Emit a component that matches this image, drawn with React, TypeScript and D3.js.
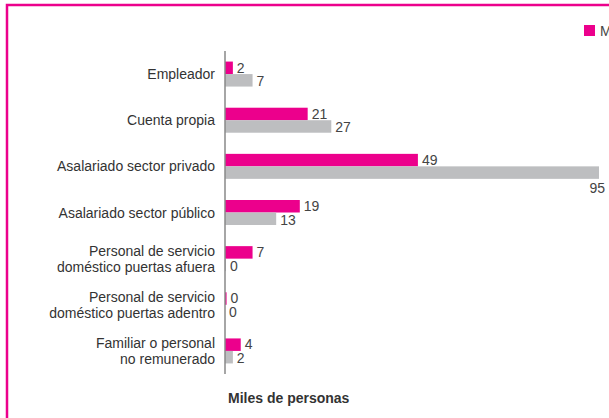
import React from "react";
import * as d3 from "d3";

const categories: string[][] = [
  ["Empleador"],
  ["Cuenta propia"],
  ["Asalariado sector privado"],
  ["Asalariado sector público"],
  ["Personal de servicio", "doméstico puertas afuera"],
  ["Personal de servicio", "doméstico puertas adentro"],
  ["Familiar o personal", "no remunerado"],
];
const mujeres = [2, 21, 49, 19, 7, 0.4, 4];
const mujeresLabels = ["2", "21", "49", "19", "7", "0", "4"];
const varones = [7, 27, 95, 13, 0.25, 0, 2];
const varonesLabels = ["7", "27", "95", "13", "0", "0", "2"];
const legendLabels = ["Mujeres", "Varones"];
const axisTitle = "Miles de personas";

const PINK = "#EC008C";
const GRAY = "#BDBEC0";

export default function App() {
  const W = 609, H = 418;
  const keys = categories.map((c) => c.join(" "));
  const y = d3.scaleBand<string>().domain(keys).range([51, 374]).padding(0);
  const x = d3.scaleLinear().domain([0, 95]).range([225, 599]);
  const barH = 12.5;
  const font = "'Liberation Sans', Arial, Helvetica, sans-serif";

  return (
    <svg width={W} height={H} style={{ position: "absolute", left: 0, top: 0, background: "#fff" }} fontFamily={font}>
      <rect x={7} y={5} width={W + 20} height={H + 20} fill="none" stroke={PINK} strokeWidth={2.5} />
      {/* legend */}
      <rect x={584} y={25} width={11} height={11} fill={PINK} />
      <text x={600} y={36} fontSize={14} fill="#444">{legendLabels[0]}</text>

      {categories.map((c, i) => {
        const cy = (y(keys[i]) as number) + y.bandwidth() / 2;
        const mw = x(mujeres[i]) - x(0);
        const vw = x(varones[i]) - x(0);
        const vEnd = x(varones[i]);
        const vFits = vEnd + 22 < W;
        return (
          <g key={i}>
            {c.map((line, j) => (
              <text
                key={j}
                x={215}
                y={cy + 5 + (j - (c.length - 1) / 2) * 16}
                textAnchor="end"
                fontSize={14}
                fill="#333"
              >
                {line}
              </text>
            ))}
            {mujeres[i] > 0 && (
              <rect x={x(0)} y={cy - barH} width={mw} height={barH} fill={PINK} />
            )}
            {varones[i] > 0 && (
              <rect x={x(0)} y={cy} width={vw} height={barH} fill={GRAY} />
            )}
            <text x={x(mujeres[i]) + 4} y={cy - 1.5} fontSize={14} fill="#444">
              {mujeresLabels[i]}
            </text>
            {vFits ? (
              <text x={vEnd + 4} y={cy + barH - 0.5} fontSize={14} fill="#444">
                {varonesLabels[i]}
              </text>
            ) : (
              <text x={vEnd + 6} y={cy + barH + 14} fontSize={14} fill="#444" textAnchor="end">
                {varonesLabels[i]}
              </text>
            )}
          </g>
        );
      })}
      <line x1={x(0)} x2={x(0)} y1={51} y2={374} stroke="#888" strokeWidth={1.5} />
      <text x={228} y={403} fontSize={14} fontWeight="bold" fill="#333">{axisTitle}</text>
    </svg>
  );
}
